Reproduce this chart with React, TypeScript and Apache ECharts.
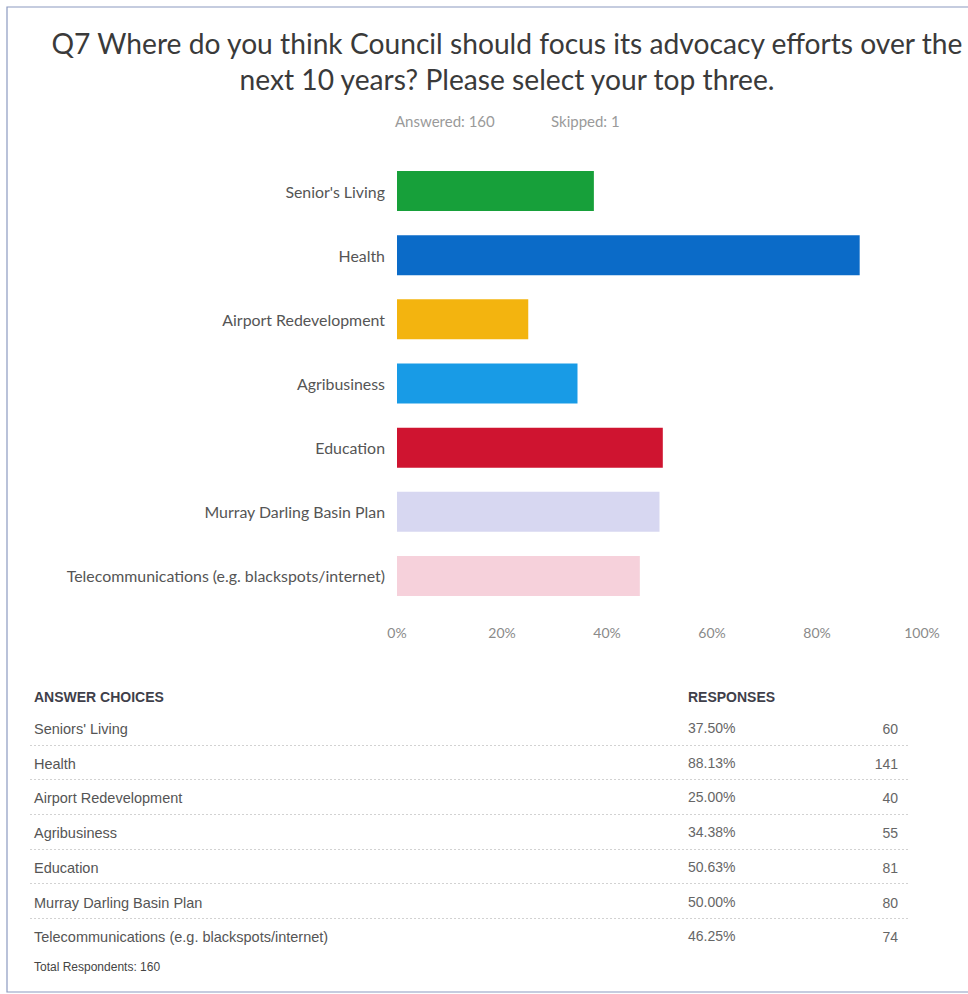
import React, { useEffect, useRef } from "react";
import * as echarts from "echarts";

const titleLines = [
  "Q7 Where do you think Council should focus its advocacy efforts over the",
  "next 10 years? Please select your top three.",
];
const answeredText = "Answered: 160";
const skippedText = "Skipped: 1";

const categories = [
  "Senior's Living",
  "Health",
  "Airport Redevelopment",
  "Agribusiness",
  "Education",
  "Murray Darling Basin Plan",
  "Telecommunications (e.g. blackspots/internet)",
];
const responsePct = [37.5, 88.13, 25.0, 34.38, 50.63, 50.0, 46.25];
const responseCount = [60, 141, 40, 55, 81, 80, 74];
const barColors = ["#17A03A", "#0B6BC8", "#F3B40F", "#189BE6", "#CF1430", "#D7D7F1", "#F6D1DB"];

const tableChoices = [
  "Seniors' Living",
  "Health",
  "Airport Redevelopment",
  "Agribusiness",
  "Education",
  "Murray Darling Basin Plan",
  "Telecommunications (e.g. blackspots/internet)",
];
const tableHeaders = ["ANSWER CHOICES", "RESPONSES"];
const totalText = "Total Respondents: 160";

export default function App() {
  const ref = useRef<HTMLDivElement>(null);
  useEffect(() => {
    document.body.style.margin = "0";
    if (!ref.current) return;
    const chart = echarts.init(ref.current, undefined, { renderer: "svg" });

    const calibri = "Lato, 'Open Sans', sans-serif";
    const arial = "'Liberation Sans', Arial, sans-serif";

    const graphics: any[] = [];
    graphics.push({
      type: "rect",
      shape: { x: 7, y: 7, width: 975, height: 985 },
      style: { fill: "none", stroke: "#8C9AC0", lineWidth: 1.2 },
      silent: true,
    });
    titleLines.forEach((t, i) => {
      graphics.push({
        type: "text",
        x: 507,
        y: 43 + i * 36,
        style: {
          text: t,
          fill: "#3A3A3A",
          font: `28.2px ${calibri}`,
          align: "center",
          verticalAlign: "middle",
        },
      });
    });
    graphics.push({
      type: "text",
      x: 395,
      y: 121,
      style: { text: answeredText, fill: "#9A9A9A", font: `15px ${calibri}`, align: "left", verticalAlign: "middle" },
    });
    graphics.push({
      type: "text",
      x: 551,
      y: 121,
      style: { text: skippedText, fill: "#9A9A9A", font: `15px ${calibri}`, align: "left", verticalAlign: "middle" },
    });

    const headerY = 697;
    graphics.push({
      type: "text",
      x: 34,
      y: headerY,
      style: { text: tableHeaders[0], fill: "#3F3F4A", font: `bold 14px ${arial}`, align: "left", verticalAlign: "middle" },
    });
    graphics.push({
      type: "text",
      x: 688,
      y: headerY,
      style: { text: tableHeaders[1], fill: "#3F3F4A", font: `bold 14px ${arial}`, align: "left", verticalAlign: "middle" },
    });
    const rowY0 = 729;
    const rowH = 34.7;
    tableChoices.forEach((c, i) => {
      const y = rowY0 + i * rowH;
      graphics.push({
        type: "text",
        x: 34,
        y,
        style: { text: c, fill: "#555555", font: `14.5px ${arial}`, align: "left", verticalAlign: "middle" },
      });
      graphics.push({
        type: "text",
        x: 688,
        y: y - 1,
        style: {
          text: responsePct[i].toFixed(2) + "%",
          fill: "#666666",
          font: `14px ${arial}`,
          align: "left",
          verticalAlign: "middle",
        },
      });
      graphics.push({
        type: "text",
        x: 898,
        y,
        style: {
          text: String(responseCount[i]),
          fill: "#666666",
          font: `14px ${arial}`,
          align: "right",
          verticalAlign: "middle",
        },
      });
      if (i < tableChoices.length - 1) {
        const ly = Math.round(y + 15.5) + 0.5;
        graphics.push({
          type: "line",
          shape: { x1: 30, y1: ly, x2: 908, y2: ly },
          style: { stroke: "#D2D2D2", lineWidth: 1, lineDash: [2, 2] },
          silent: true,
        });
      }
    });
    graphics.push({
      type: "text",
      x: 34,
      y: 967,
      style: { text: totalText, fill: "#444444", font: `12px ${arial}`, align: "left", verticalAlign: "middle" },
    });

    chart.setOption({
      animation: false,
      backgroundColor: "#ffffff",
      grid: { left: 397, right: 46, top: 159, bottom: 386, containLabel: false },
      xAxis: {
        type: "value",
        min: 0,
        max: 100,
        interval: 20,
        axisLine: { show: false },
        axisTick: { show: false },
        splitLine: { show: false },
        axisLabel: {
          formatter: "{value}%",
          color: "#8A8A8A",
          fontSize: 14,
          fontFamily: calibri,
          margin: 17,
        },
      },
      yAxis: {
        type: "category",
        inverse: true,
        data: categories,
        axisLine: { show: false },
        axisTick: { show: false },
        splitLine: { show: false },
        axisLabel: {
          color: "#555555",
          fontSize: 15.9,
          fontFamily: calibri,
          margin: 12,
        },
      },
      series: [
        {
          type: "bar",
          barWidth: 40,
          data: responsePct.map((v, i) => ({ value: v, itemStyle: { color: barColors[i] } })),
          silent: true,
        },
      ],
      graphic: graphics,
    });
    return () => chart.dispose();
  }, []);
  return <div ref={ref} style={{ width: 968, height: 994 }} />;
}
